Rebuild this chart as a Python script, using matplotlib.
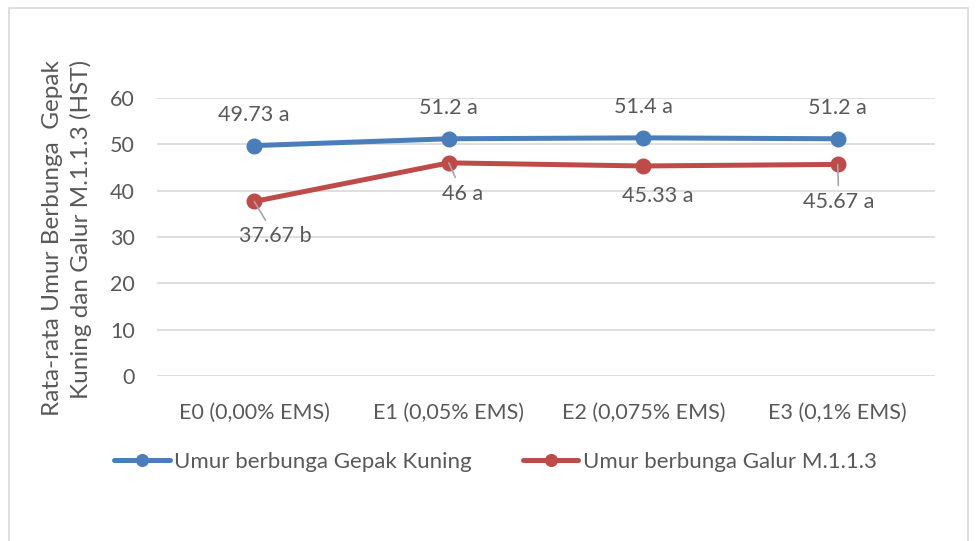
from matplotlib import pyplot as plt
from matplotlib.patches import Rectangle

categories = ["E0 (0,00% EMS)", "E1 (0,05% EMS)", "E2 (0,075% EMS)", "E3 (0,1% EMS)"]
gepak = [49.73, 51.2, 51.4, 51.2]
galur = [37.67, 46.0, 45.33, 45.67]
gepak_labels = ["49.73 a", "51.2 a", "51.4 a", "51.2 a"]
galur_labels = ["37.67 b", "46 a", "45.33 a", "45.67 a"]
series_names = ["Umur berbunga Gepak Kuning", "Umur berbunga Galur M.1.1.3"]

BLUE = "#4A7EBB"
RED = "#BE4B48"
TEXT = "#595959"
GRID = "#D9D9D9"

plt.rcParams["font.family"] = ["Lato", "DejaVu Sans"]
FS = 15.5

fig = plt.figure(figsize=(9.76, 5.41), dpi=100)
W, H = 976, 541
ax = fig.add_axes([157 / W, (H - 376) / H, 778 / W, 278 / H])

# chart border
fig.patches.append(Rectangle((9 / W, -0.01), 959 / W, (H - 8) / H + 0.01,
                             transform=fig.transFigure, fill=False,
                             edgecolor=GRID, linewidth=1.2))

x = list(range(len(categories)))
ax.plot(x, gepak, color=BLUE, lw=3.6, marker="o", ms=10.5, label=series_names[0],
        solid_capstyle="round", zorder=3)
ax.plot(x, galur, color=RED, lw=3.6, marker="o", ms=10.5, label=series_names[1],
        solid_capstyle="round", zorder=3)

ax.set_xlim(-0.5, len(categories) - 0.5)
ax.set_ylim(0, 60)
ax.set_yticks(range(0, 61, 10))
ax.set_xticks(x)
ax.set_xticklabels(categories)
ax.tick_params(length=0, labelsize=FS, colors=TEXT)
ax.tick_params(axis="x", pad=19)
ax.tick_params(axis="y", pad=16)
ax.grid(axis="y", color=GRID, lw=1.2)
ax.set_axisbelow(True)
for s in ax.spines.values():
    s.set_visible(False)

# data labels (offsets in pixels)
for xi, v, t in zip(x, gepak, gepak_labels):
    ax.annotate(t, (xi, v), xytext=(0, 31), textcoords="offset pixels",
                ha="center", va="center", fontsize=FS, color=TEXT)

red_offsets = [(21, -35), (14, -31), (14, -30), (1, -38)]
red_leader = [True, True, False, True]
for xi, v, t, off, lead in zip(x, galur, galur_labels, red_offsets, red_leader):
    arrow = dict(arrowstyle="-", color="#A6A6A6", lw=1.2, shrinkA=3, shrinkB=0) if lead else None
    ax.annotate(t, (xi, v), xytext=off, textcoords="offset pixels",
                ha="center", va="center", fontsize=FS, color=TEXT,
                arrowprops=arrow)

fig.text(67 / W, 1 - 238 / H,
         "Rata-rata Umur Berbunga  Gepak\nKuning dan Galur M.1.1.3 (HST)",
         rotation=90, ha="center", va="center", ma="right", fontsize=17.5,
         color=TEXT, linespacing=1.42)

leg = fig.legend(loc="center left", bbox_to_anchor=(114 / W, 1 - 462 / H), ncol=2,
                 frameon=False, fontsize=16, handlelength=2.5, handletextpad=0.2,
                 columnspacing=2.3, borderpad=0, borderaxespad=0, markerscale=0.8)
for t in leg.get_texts():
    t.set_color(TEXT)

fig.savefig("out.png", dpi=100)
